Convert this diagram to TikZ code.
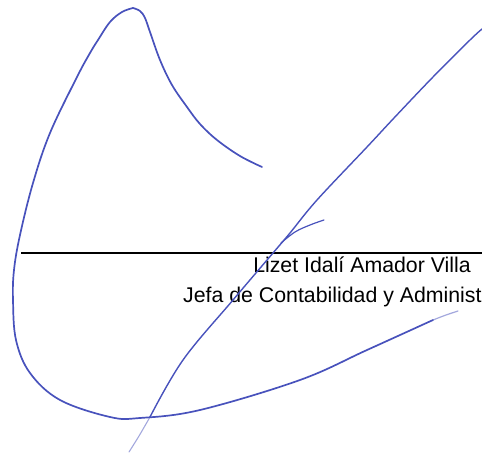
\documentclass[tikz,border=0pt]{standalone}
\usepackage{fontspec}
\setmainfont{Liberation Sans}
\definecolor{tinta}{RGB}{72,82,188}
\tikzset{
  trazo/.style={tinta, line width=1.7pt, line cap=round, line join=round},
  texto/.style={inner sep=0pt, font=\fontsize{21.3}{30}\selectfont}
}
\begin{document}
\begin{tikzpicture}[x=1pt, y=-1pt]
\useasboundingbox (0,0) rectangle (482,454);

\coordinate (linea-a) at (21,253);
\coordinate (linea-b) at (482,253);
\draw[line width=1.3pt] (linea-a) -- (linea-b);

\node[texto, anchor=base] (nombre) at (362,273) {Lizet Idalí Amador Villa};
\node[texto, anchor=base west] (cargo) at (183,303) {Jefa de Contabilidad y Administ};

\begin{scope}[trazo]
\draw plot[smooth, tension=0.6] coordinates {(262,167) (240,156) (217,140) (200,124) (187,107) (172,85) (160,60) (150,32) (145,18) (140,11) (133,8)};
\draw plot[smooth, tension=0.6] coordinates {(133,8) (122,12) (110,22) (98,40) (90,53) (77,77) (50,133) (33,183) (20,235) (14,270) (13,300) (16,340) (30,373) (60,400) (110,417) (140,418) (200,410) (300,380) (367,350) (433,320)};
\draw[opacity=0.5, line width=1.2pt] plot[smooth] coordinates {(433,320) (446,315) (458,311)};
\draw[line width=1.4pt] plot[smooth, tension=0.6] coordinates {(482,29) (470,40) (433,77) (394,118) (367,147) (317,200) (290,233) (273,253) (233,300) (183,360) (150,417)};
\draw[opacity=0.5, line width=1.1pt] plot[smooth] coordinates {(150,417) (139,436) (129,452)};
\draw[line width=1.2pt] plot[smooth, tension=0.6] coordinates {(281,243) (295,232) (310,225) (324,220)};
\end{scope}
\end{tikzpicture}
\end{document}
